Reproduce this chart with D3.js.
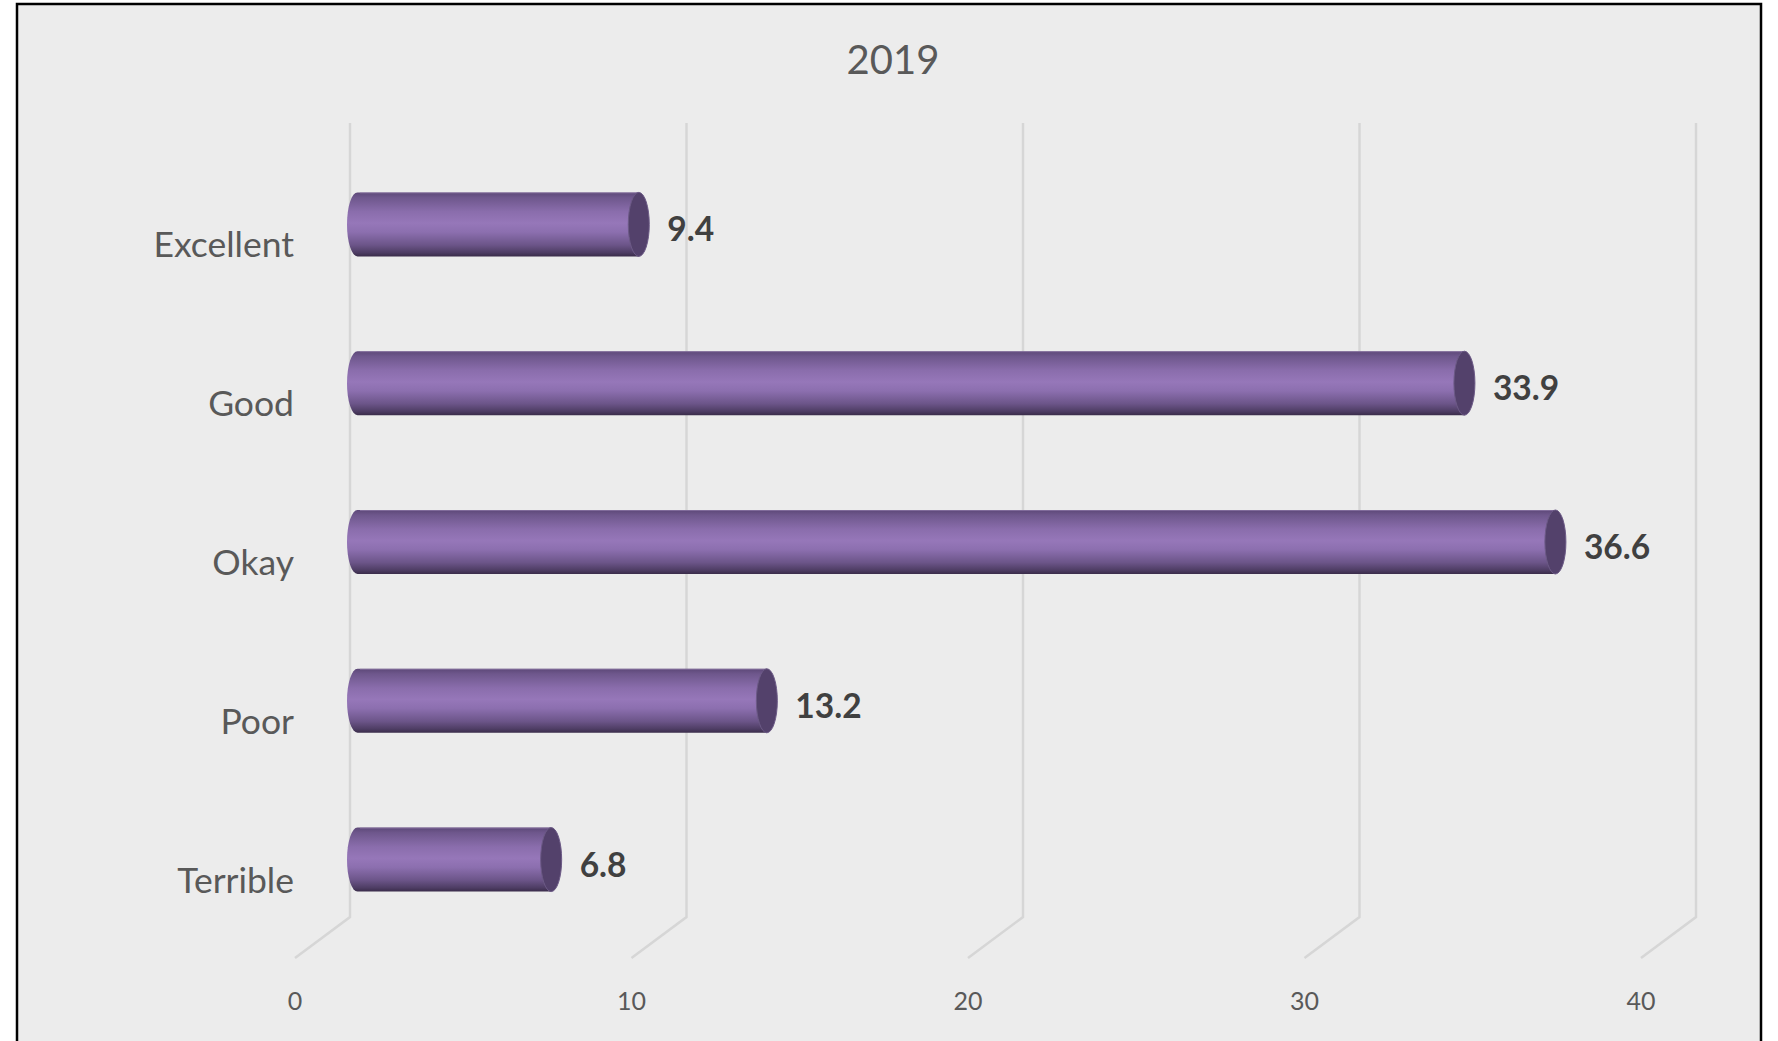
<!DOCTYPE html>
<html>
<head>
<meta charset="utf-8">
<script src="https://cdn.jsdelivr.net/npm/d3@7"></script>
<style>
  html, body { margin: 0; padding: 0; background: #ffffff; }
  svg { display: block; }
</style>
</head>
<body>
<svg id="chart" width="1778" height="1041"></svg>
<script>
// Survey ratings for 2019
const title = "2019";
const categories = ["Excellent", "Good", "Okay", "Poor", "Terrible"];
const values = [9.4, 33.9, 36.6, 13.2, 6.8];
const tickValues = [0, 10, 20, 30, 40];

const W = 1778, H = 1041;
const svg = d3.select("#chart");

// Chart area with border
svg.append("rect")
  .attr("x", 17).attr("y", 4)
  .attr("width", 1744).attr("height", H + 10)
  .attr("fill", "#ececec")
  .attr("stroke", "#000").attr("stroke-width", 2.5);

// Oblique 3-D layout: back wall, mid-depth (bars) and front (tick labels)
const depthDX = -55, depthDY = 41;
const xBack = d3.scaleLinear().domain([0, 40]).range([350, 350 + 1346]);
const xMid = d3.scaleLinear().domain([0, 40]).range([322, 322 + 1348]);
const xFront = v => xBack(v) + depthDX;

const y = d3.scaleBand().domain(categories).range([145, 939]).padding(0);
const barH = 64;
const capRx = 10.5;

const gridTop = 123, gridBottom = 917;

// Gridlines on the back wall and floor edge
const grid = svg.append("g");
tickValues.forEach(v => {
  grid.append("path")
    .attr("d", `M${xBack(v)},${gridTop} L${xBack(v)},${gridBottom} L${xBack(v) + depthDX},${gridBottom + depthDY}`)
    .attr("fill", "none")
    .attr("stroke", "#d6d6d6")
    .attr("stroke-width", 2.5);
});

// Axis tick labels along the front edge
svg.append("g").selectAll("text")
  .data(tickValues).join("text")
  .attr("x", d => xFront(d))
  .attr("y", 1010)
  .attr("text-anchor", "middle")
  .attr("font-family", "Lato, 'Open Sans', sans-serif")
  .attr("font-size", 25)
  .attr("fill", "#595959")
  .text(d => d3.format("d")(d));

// Title
svg.append("text")
  .attr("x", 893).attr("y", 74)
  .attr("text-anchor", "middle")
  .attr("font-family", "Lato, 'Open Sans', sans-serif")
  .attr("font-size", 40)
  .attr("fill", "#595959")
  .text(title);

// Cylinder shading
const defs = svg.append("defs");
const grad = defs.append("linearGradient")
  .attr("id", "cyl").attr("x1", 0).attr("y1", 0).attr("x2", 0).attr("y2", 1);
[[0, "#5d4878"], [0.08, "#6e578c"], [0.3, "#8a6dac"], [0.48, "#9677b9"], [0.62, "#8c6faf"],
 [0.82, "#6c5589"], [0.94, "#4e3d64"], [1, "#3a2c4a"]]
  .forEach(([o, c]) => grad.append("stop").attr("offset", o).attr("stop-color", c));

const rows = categories.map((c, i) => ({ cat: c, val: values[i] }));

const bars = svg.append("g").selectAll("g")
  .data(rows).join("g");

bars.append("path")
  .attr("d", d => {
    const cy = y(d.cat) + y.bandwidth() / 2;
    const top = cy - barH / 2, bot = cy + barH / 2;
    const left = xMid(0) + 35.5;
    const right = xMid(d.val);
    return `M${left},${top} L${right},${top} L${right},${bot} L${left},${bot} ` +
           `A${capRx},${barH / 2} 0 0 1 ${left},${top} Z`;
  })
  .attr("fill", "url(#cyl)");

// Thin highlight along the top edge
bars.append("line")
  .attr("x1", xMid(0) + 38)
  .attr("x2", d => xMid(d.val))
  .attr("y1", d => y(d.cat) + y.bandwidth() / 2 - barH / 2 + 0.5)
  .attr("y2", d => y(d.cat) + y.bandwidth() / 2 - barH / 2 + 0.5)
  .attr("stroke", "#8f7aa8").attr("stroke-width", 1).attr("opacity", 0.7);

// End cap
bars.append("ellipse")
  .attr("cx", d => xMid(d.val))
  .attr("cy", d => y(d.cat) + y.bandwidth() / 2)
  .attr("rx", capRx).attr("ry", barH / 2)
  .attr("fill", "#53416b")
  .attr("stroke", "#6c5a86").attr("stroke-width", 1);

// Value labels
bars.append("text")
  .attr("x", d => xMid(d.val) + capRx + 18)
  .attr("y", d => y(d.cat) + y.bandwidth() / 2 + 17)
  .attr("font-family", "Lato, 'Open Sans', sans-serif")
  .attr("font-weight", "bold")
  .attr("font-size", 33.5)
  .attr("fill", "#404040")
  .text(d => d.val.toFixed(1));

// Category labels
svg.append("g").selectAll("text")
  .data(categories).join("text")
  .attr("x", 294)
  .attr("y", d => y(d) + y.bandwidth() / 2 + 33)
  .attr("text-anchor", "end")
  .attr("font-family", "Lato, 'Open Sans', sans-serif")
  .attr("font-size", 35.5)
  .attr("fill", "#595959")
  .text(d => d);
</script>
</body>
</html>
